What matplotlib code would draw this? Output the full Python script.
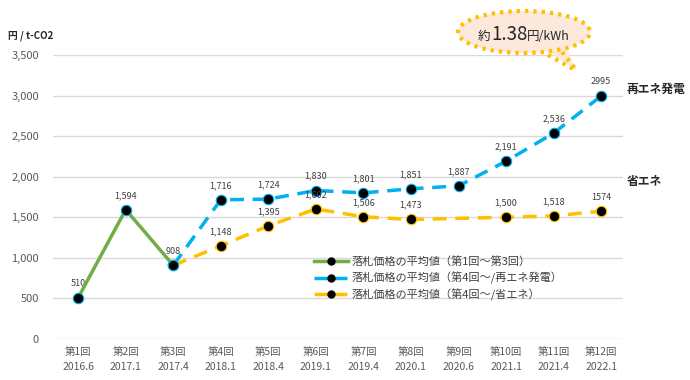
import matplotlib
matplotlib.use("Agg")
import matplotlib.pyplot as plt
from matplotlib.patches import Ellipse, Polygon
from matplotlib.lines import Line2D

plt.rcParams['font.family'] = ['Noto Sans CJK JP', 'DejaVu Sans']

rounds = ["第1回", "第2回", "第3回", "第4回", "第5回", "第6回", "第7回", "第8回", "第9回", "第10回", "第11回", "第12回"]
dates = ["2016.6", "2017.1", "2017.4", "2018.1", "2018.4", "2019.1", "2019.4", "2020.1", "2020.6", "2021.1", "2021.4", "2022.1"]

green_x = [1, 2, 3]
green_y = [510, 1594, 908]
blue_x = [3, 4, 5, 6, 7, 8, 9, 10, 11, 12]
blue_y = [908, 1716, 1724, 1830, 1801, 1851, 1887, 2191, 2536, 2995]
orange_x = [3, 4, 5, 6, 7, 8, 10, 11, 12]
orange_y = [908, 1148, 1395, 1602, 1506, 1473, 1500, 1518, 1574]

legend_labels = ["落札価格の平均値（第1回～第3回）",
                 "落札価格の平均値（第4回～/再エネ発電）",
                 "落札価格の平均値（第4回～/省エネ）"]

GREEN = "#70AD47"
BLUE = "#00B0F0"
ORANGE = "#FFC000"
TXT = "#595959"

fig = plt.figure(figsize=(6.9, 3.8), dpi=100)
ax = fig.add_axes([53/690, 1-339/380, (623-53)/690, (339-55)/380])
ax.set_xlim(0.47, 12.46)
ax.set_ylim(0, 3500)
ax.set_yticks(range(0, 3501, 500))
ax.yaxis.set_major_formatter(matplotlib.ticker.FuncFormatter(lambda v, p: f"{int(v):,}"))
ax.grid(axis='y', color='#D9D9D9', lw=1)
ax.set_axisbelow(True)
for s in ax.spines.values():
    s.set_visible(False)
ax.tick_params(axis='y', length=0, labelsize=8, labelcolor=TXT, pad=10)
ax.tick_params(axis='x', length=0, labelsize=7.5, labelcolor=TXT, pad=6)
ax.set_xticks(range(1, 13))
ax.set_xticklabels([f"{r}\n{d}" for r, d in zip(rounds, dates)], linespacing=1.6)

ax.plot(blue_x, blue_y, color=BLUE, lw=2.5, ls=(0, (4, 2.5)), marker='o', ms=7.5,
        mfc='black', mec=BLUE, mew=0.8, zorder=3)
ax.plot(orange_x, orange_y, color=ORANGE, lw=2.5, ls=(0, (4, 2.5)), marker='o', ms=7.5,
        mfc='black', mec=ORANGE, mew=0.8, zorder=3)
ax.plot(green_x, green_y, color=GREEN, lw=2.5, marker='o', ms=7.5,
        mfc='black', mec=BLUE, mew=0.8, zorder=4)

def labels(xs, ys, nocomma_last=False):
    for i, (x, y) in enumerate(zip(xs, ys)):
        s = f"{y:,}"
        if nocomma_last and i == len(xs) - 1:
            s = f"{y}"
        ax.annotate(s, (x, y), xytext=(0, 7), textcoords='offset points',
                    ha='center', va='bottom', fontsize=6.5, color='#404040')

labels(green_x, green_y)
labels(blue_x[1:], blue_y[1:], nocomma_last=True)
labels(orange_x[1:], orange_y[1:], nocomma_last=True)

handles = [
    Line2D([], [], color=GREEN, lw=2.5, marker='o', ms=5, mfc='black', mec='black'),
    Line2D([], [], color=BLUE, lw=2.5, ls=(0, (4, 1.5)), marker='o', ms=5, mfc='black', mec='black'),
    Line2D([], [], color=ORANGE, lw=2.5, ls=(0, (4, 1.5)), marker='o', ms=5, mfc='black', mec='black'),
]
fig.legend(handles, legend_labels, loc='upper left', bbox_to_anchor=(310/690, 1-252/380),
           frameon=False, fontsize=8, handlelength=3.0, handletextpad=0.3,
           labelspacing=0.4, labelcolor='#404040', borderaxespad=0)

fig.text(8/690, 1-36/380, "円 / t-CO2", fontsize=7, color='#262626', fontweight='bold', va='center')
fig.text(627/690, 1-89/380, "再エネ発電", fontsize=8.5, color='#262626', fontweight='bold', va='center')
fig.text(627/690, 1-182/380, "省エネ", fontsize=8.5, color='#262626', fontweight='bold', va='center')

# callout
def F(x, y):
    return (x/690, 1-y/380)

fill = '#FCE9DC'
tail = Polygon([F(546, 50), F(566, 48), F(577, 71)], closed=True, transform=fig.transFigure,
               facecolor=fill, edgecolor='none', zorder=5)
fig.add_artist(tail)
ell = Ellipse(F(524, 32), 132/690, 42/380, transform=fig.transFigure,
              facecolor=fill, edgecolor=ORANGE, lw=3, ls=(0, (0.8, 1.2)), zorder=5)
fig.add_artist(ell)
for (x0, y0) in [(548, 55), (562, 52)]:
    fig.add_artist(Line2D([x0/690, 577/690], [1-y0/380, 1-71/380], transform=fig.transFigure,
                          color=ORANGE, lw=3, ls=(0, (0.8, 1.2)), zorder=6))
fig.text(478/690, 1-40/380, "約", fontsize=9, color='#262626', va='baseline', zorder=7)
fig.text(491/690, 1-40/380, "1.38", fontsize=13.5, color='#262626', va='baseline', zorder=7)
fig.text(527/690, 1-40/380, "円/kWh", fontsize=9, color='#262626', va='baseline', zorder=7)

fig.savefig("out.png", dpi=100)
